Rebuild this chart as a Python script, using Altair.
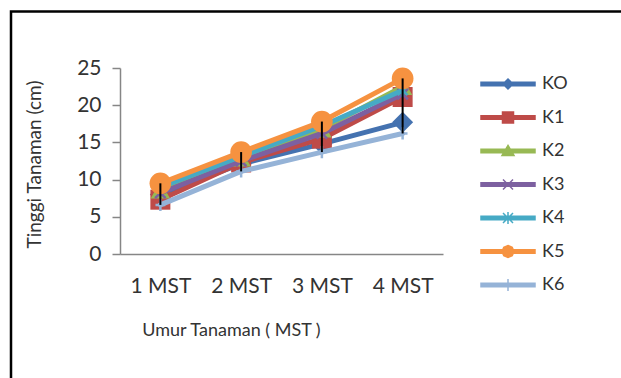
import altair as alt
import pandas as pd

weeks = ["1 MST", "2 MST", "3 MST", "4 MST"]
series = ["KO", "K1", "K2", "K3", "K4", "K5", "K6"]
KO = [8.0, 12.1, 14.8, 17.7]
K1 = [7.3, 12.3, 15.5, 21.1]
K2 = [8.6, 12.9, 16.8, 22.5]
K3 = [8.2, 12.5, 16.2, 21.5]
K4 = [9.0, 13.1, 17.2, 22.0]
K5 = [9.5, 13.7, 17.8, 23.6]
K6 = [6.6, 11.1, 13.7, 16.2]
y_ticks = [0, 5, 10, 15, 20, 25]

colors = ["#4472B0", "#BE4B48", "#98B954", "#7D60A0", "#46AAC5", "#F69240", "#95B3D7"]

X_PATH = "M-1,-1L1,1M-1,1L1,-1"
STAR_PATH = "M-0.8,-0.8L0.8,0.8M-0.8,0.8L0.8,-0.8M0,-1V1"
PLUS_PATH = "M-0.8,0H0.8M0,-1V1"
plot_marks = [
    dict(shape="diamond", filled=True, size=440),
    dict(shape="square", filled=True, size=400),
    dict(shape="triangle-up", filled=True, size=380),
    dict(shape=X_PATH, filled=False, size=110, strokeWidth=2.5),
    dict(shape=STAR_PATH, filled=False, size=150, strokeWidth=2.5),
    dict(shape="circle", filled=True, size=470),
    dict(shape=PLUS_PATH, filled=False, size=150, strokeWidth=2.5),
]

LINE = "M-2.7,-0.18H2.7V0.18H-2.7Z"
legend_paths = [
    LINE + "M0,-0.5L0.5,0L0,0.5L-0.5,0Z",
    LINE + "M-0.55,-0.55H0.55V0.55H-0.55Z",
    LINE + "M0,-0.55L0.6,0.45H-0.6Z",
    LINE + "M-0.5,-0.5L0.5,0.5M-0.5,0.5L0.5,-0.5",
    LINE + "M-0.5,-0.5L0.5,0.5M-0.5,0.5L0.5,-0.5M0,-0.6V0.6",
    LINE + "M0,-0.6L0.42,-0.42L0.6,0L0.42,0.42L0,0.6L-0.42,0.42L-0.6,0L-0.42,-0.42Z",
    LINE + "M0,-0.6V0.6",
]

rows = []
for s, vals in zip(series, [KO, K1, K2, K3, K4, K5, K6]):
    for w, v in zip(weeks, vals):
        rows.append({"series": s, "week": w, "value": v})
df = pd.DataFrame(rows)

FONT = "Lato"
TXT = "#333333"
AX = "#868686"

xenc = alt.X(
    "week:N", sort=weeks, scale=alt.Scale(type="point", padding=0.5),
    axis=alt.Axis(
        title="Umur Tanaman ( MST )", labelAngle=0, ticks=False, labelPadding=21,
        domainColor=AX, domainWidth=1.5, grid=False,
        labelFont=FONT, labelFontSize=21, labelColor=TXT,
        titleFont=FONT, titleFontSize=18, titleFontWeight="normal", titleColor=TXT,
        titleX=111, titleY=76, titleBaseline="middle", titleAlign="center",
    ),
)
yscale = alt.Scale(domain=[0, 25], nice=False)
yaxis = alt.Axis(
    title="Tinggi Tanaman (cm)", values=y_ticks, tickSize=8, tickColor=AX, tickWidth=1.5,
    domainColor=AX, domainWidth=1.5, labelPadding=11, grid=False,
    labelFont=FONT, labelFontSize=21, labelColor=TXT,
    titleFont=FONT, titleFontSize=19, titleFontWeight="normal", titleColor=TXT,
    titleX=-86, titleY=96, titleBaseline="middle", titleAlign="center",
)


def yenc(field):
    return alt.Y(field, type="quantitative", scale=yscale, axis=yaxis)


colscale = alt.Scale(domain=series, range=colors)
base = alt.Chart(df)

frame = alt.Chart(pd.DataFrame({"a": [0]})).mark_rect(
    fillOpacity=0, stroke="black", strokeWidth=2.5
).encode(x=alt.value(-109), x2=alt.value(700), y=alt.value(-56.5), y2=alt.value(500))

layers = [frame]
for s, pm in zip(series, plot_marks):
    sub = base.transform_filter(alt.datum.series == s)
    layers.append(
        sub.mark_line(strokeWidth=5, strokeCap="round", strokeJoin="round").encode(
            x=xenc, y=yenc("value"), color=alt.Color("series:N", scale=colscale, legend=None)
        )
    )
    layers.append(
        sub.mark_point(opacity=1, **pm).encode(
            x=xenc, y=yenc("value"), color=alt.Color("series:N", scale=colscale, legend=None)
        )
    )

hilo = base.transform_aggregate(
    lo="min(value)", hi="max(value)", groupby=["week"]
).mark_rule(color="black", strokeWidth=2).encode(x=xenc, y=yenc("lo"), y2="hi:Q")

leg = dict(
    title=None, orient="none", legendX=377, legendY=5, symbolSize=400,
    symbolStrokeWidth=1.5, symbolOpacity=1, labelFont=FONT, labelFontSize=18,
    labelColor=TXT, labelOffset=23, rowPadding=13.5, padding=0,
)
legend_layer = base.mark_point(filled=True, opacity=0).encode(
    x=xenc, y=yenc("value"),
    fill=alt.Fill("series:N", scale=alt.Scale(domain=series, range=colors), legend=alt.Legend(**leg)),
    stroke=alt.Stroke("series:N", scale=alt.Scale(domain=series, range=colors), legend=alt.Legend(**leg)),
    shape=alt.Shape("series:N", scale=alt.Scale(domain=series, range=legend_paths), legend=alt.Legend(**leg)),
)
layers.insert(1, legend_layer)
layers.append(hilo)

chart = alt.layer(*layers).properties(
    width=323, height=186,
    padding={"left": 120, "top": 68, "right": 178, "bottom": 124},
    autosize=alt.AutoSizeParams(type="none"),
    background="white",
).configure_view(stroke=None)

chart.save("out.html", embed_options={"renderer": "svg", "actions": False})
